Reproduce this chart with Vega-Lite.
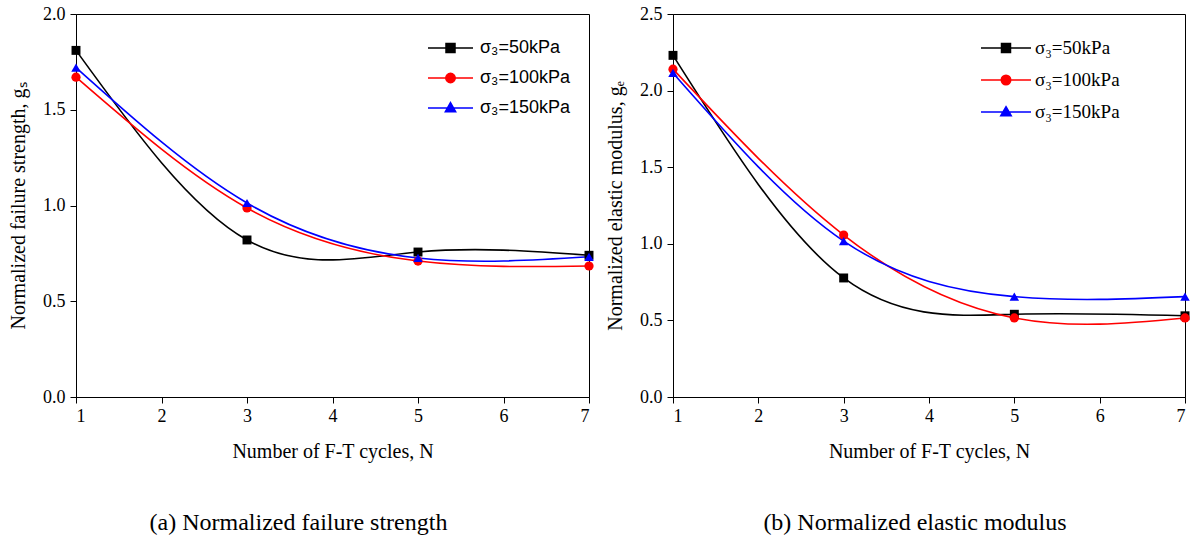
{
  "$schema": "https://vega.github.io/schema/vega-lite/v6.json",
  "background": "white",
  "padding": {"left": 8, "top": 4, "right": 5, "bottom": 5},
  "spacing": 10,
  "resolve": {"scale": {"color": "independent"}, "legend": {"color": "independent"}},
  "config": {
    "view": {"stroke": "black", "strokeWidth": 1},
    "axis": {
      "domainColor": "black", "domainWidth": 1, "tickColor": "black", "tickWidth": 1, "tickSize": 6,
      "grid": false, "labelFont": "Liberation Serif", "labelFontSize": 18, "labelColor": "black",
      "titleFont": "Liberation Serif", "titleFontSize": 20, "titleFontWeight": "normal", "titleColor": "black"
    },
    "title": {"font": "Liberation Serif", "fontSize": 24, "fontWeight": "normal", "color": "black"}
  },
  "datasets": {
    "strength": [
      {"N": 1, "g": 1.81, "s": "σ₃=50kPa"}, {"N": 3, "g": 0.82, "s": "σ₃=50kPa"}, {"N": 5, "g": 0.757, "s": "σ₃=50kPa"}, {"N": 7, "g": 0.74, "s": "σ₃=50kPa"},
      {"N": 1, "g": 1.67, "s": "σ₃=100kPa"}, {"N": 3, "g": 0.987, "s": "σ₃=100kPa"}, {"N": 5, "g": 0.71, "s": "σ₃=100kPa"}, {"N": 7, "g": 0.684, "s": "σ₃=100kPa"},
      {"N": 1, "g": 1.72, "s": "σ₃=150kPa"}, {"N": 3, "g": 1.013, "s": "σ₃=150kPa"}, {"N": 5, "g": 0.726, "s": "σ₃=150kPa"}, {"N": 7, "g": 0.732, "s": "σ₃=150kPa"}
    ],
    "modulus": [
      {"N": 1, "g": 2.23, "s": "σ₃=50kPa"}, {"N": 3, "g": 0.777, "s": "σ₃=50kPa"}, {"N": 5, "g": 0.54, "s": "σ₃=50kPa"}, {"N": 7, "g": 0.53, "s": "σ₃=50kPa"},
      {"N": 1, "g": 2.14, "s": "σ₃=100kPa"}, {"N": 3, "g": 1.057, "s": "σ₃=100kPa"}, {"N": 5, "g": 0.516, "s": "σ₃=100kPa"}, {"N": 7, "g": 0.516, "s": "σ₃=100kPa"},
      {"N": 1, "g": 2.115, "s": "σ₃=150kPa"}, {"N": 3, "g": 1.018, "s": "σ₃=150kPa"}, {"N": 5, "g": 0.655, "s": "σ₃=150kPa"}, {"N": 7, "g": 0.655, "s": "σ₃=150kPa"}
    ]
  },
  "hconcat": [
    {
      "width": 513, "height": 383,
      "data": {"name": "strength"},
      "title": {"text": "(a) Normalized failure strength", "orient": "bottom", "frame": "group", "anchor": "middle", "offset": 50, "dx": -34},
      "encoding": {
        "x": {"field": "N", "type": "quantitative", "scale": {"domain": [1, 7], "nice": false},
              "axis": {"values": [1, 2, 3, 4, 5, 6, 7], "format": "d", "title": "Number of F-T cycles, N", "titlePadding": 16, "labelPadding": 4, "labelFont": "Liberation Serif"}},
        "y": {"field": "g", "type": "quantitative", "scale": {"domain": [0, 2], "nice": false},
              "axis": {"values": [0, 0.5, 1, 1.5, 2], "format": ".1f", "title": "Normalized failure strength, gₛ", "titlePadding": 14, "labelPadding": 5, "labelFont": "Liberation Serif"}},
        "color": {"field": "s", "type": "nominal",
                  "scale": {"domain": ["σ₃=50kPa", "σ₃=100kPa", "σ₃=150kPa"], "range": ["#000000", "#ff0000", "#0000ff"]},
                  "legend": {"title": null, "orient": "none", "legendX": 351, "legendY": 19, "labelOffset": 6, "rowPadding": 0, "clipHeight": 30,
                             "labelFont": "Liberation Sans", "labelFontSize": 18, "labelColor": "black",
                             "encode": {"symbols": {"update": {
                               "size": {"value": 2025},
                               "strokeWidth": {"value": 1.5},
                               "shape": {"signal": "datum.value == 'σ₃=50kPa' ? 'M-1,0H1M-0.2,-0.2H0.2V0.2H-0.2Z' : datum.value == 'σ₃=100kPa' ? 'M-1,0H1M-0.21,0A0.21,0.21 0 1,0 0.21,0A0.21,0.21 0 1,0 -0.21,0Z' : 'M-1,0H1M0,-0.24L0.23,0.17H-0.23Z'"},
                               "fill": {"signal": "datum.value == 'σ₃=50kPa' ? '#000000' : datum.value == 'σ₃=100kPa' ? '#ff0000' : '#0000ff'"},
                               "stroke": {"signal": "datum.value == 'σ₃=50kPa' ? '#000000' : datum.value == 'σ₃=100kPa' ? '#ff0000' : '#0000ff'"},
                               "opacity": {"value": 1}, "fillOpacity": {"value": 1}
                             }}}}}
      },
      "layer": [
        {"mark": {"type": "line", "interpolate": "natural", "strokeWidth": 1.6}},
        {"transform": [{"filter": "datum.s == 'σ₃=50kPa'"}], "mark": {"type": "point", "shape": "square", "filled": true, "size": 80, "opacity": 1}},
        {"transform": [{"filter": "datum.s == 'σ₃=100kPa'"}], "mark": {"type": "point", "shape": "circle", "filled": true, "size": 85, "opacity": 1}},
        {"transform": [{"filter": "datum.s == 'σ₃=150kPa'"}], "mark": {"type": "point", "shape": "triangle-up", "filled": true, "size": 90, "opacity": 1}}
      ]
    },
    {
      "width": 512, "height": 383,
      "data": {"name": "modulus"},
      "title": {"text": "(b) Normalized elastic modulus", "orient": "bottom", "frame": "group", "anchor": "middle", "offset": 50, "dx": -14},
      "encoding": {
        "x": {"field": "N", "type": "quantitative", "scale": {"domain": [1, 7], "nice": false},
              "axis": {"values": [1, 2, 3, 4, 5, 6, 7], "format": "d", "title": "Number of F-T cycles, N", "titlePadding": 16, "labelPadding": 4, "labelFont": "Liberation Serif"}},
        "y": {"field": "g", "type": "quantitative", "scale": {"domain": [0, 2.5], "nice": false},
              "axis": {"values": [0, 0.5, 1, 1.5, 2, 2.5], "format": ".1f", "title": "Normalized elastic modulus, gₑ", "titlePadding": 14, "labelPadding": 5, "labelFont": "Liberation Serif"}},
        "color": {"field": "s", "type": "nominal",
                  "scale": {"domain": ["σ₃=50kPa", "σ₃=100kPa", "σ₃=150kPa"], "range": ["#000000", "#ff0000", "#0000ff"]},
                  "legend": {"title": null, "orient": "none", "legendX": 307, "legendY": 18, "labelOffset": 3, "rowPadding": 0, "clipHeight": 32,
                             "labelFont": "Liberation Serif", "labelFontSize": 19, "labelColor": "black",
                             "encode": {"symbols": {"update": {
                               "size": {"value": 2500},
                               "strokeWidth": {"value": 1.5},
                               "shape": {"signal": "datum.value == 'σ₃=50kPa' ? 'M-1,0H1M-0.18,-0.18H0.18V0.18H-0.18Z' : datum.value == 'σ₃=100kPa' ? 'M-1,0H1M-0.19,0A0.19,0.19 0 1,0 0.19,0A0.19,0.19 0 1,0 -0.19,0Z' : 'M-1,0H1M0,-0.21L0.21,0.15H-0.21Z'"},
                               "fill": {"signal": "datum.value == 'σ₃=50kPa' ? '#000000' : datum.value == 'σ₃=100kPa' ? '#ff0000' : '#0000ff'"},
                               "stroke": {"signal": "datum.value == 'σ₃=50kPa' ? '#000000' : datum.value == 'σ₃=100kPa' ? '#ff0000' : '#0000ff'"},
                               "opacity": {"value": 1}, "fillOpacity": {"value": 1}
                             }}}}}
      },
      "layer": [
        {"mark": {"type": "line", "interpolate": "natural", "strokeWidth": 1.6}},
        {"transform": [{"filter": "datum.s == 'σ₃=50kPa'"}], "mark": {"type": "point", "shape": "square", "filled": true, "size": 80, "opacity": 1}},
        {"transform": [{"filter": "datum.s == 'σ₃=100kPa'"}], "mark": {"type": "point", "shape": "circle", "filled": true, "size": 85, "opacity": 1}},
        {"transform": [{"filter": "datum.s == 'σ₃=150kPa'"}], "mark": {"type": "point", "shape": "triangle-up", "filled": true, "size": 90, "opacity": 1}}
      ]
    }
  ]
}
